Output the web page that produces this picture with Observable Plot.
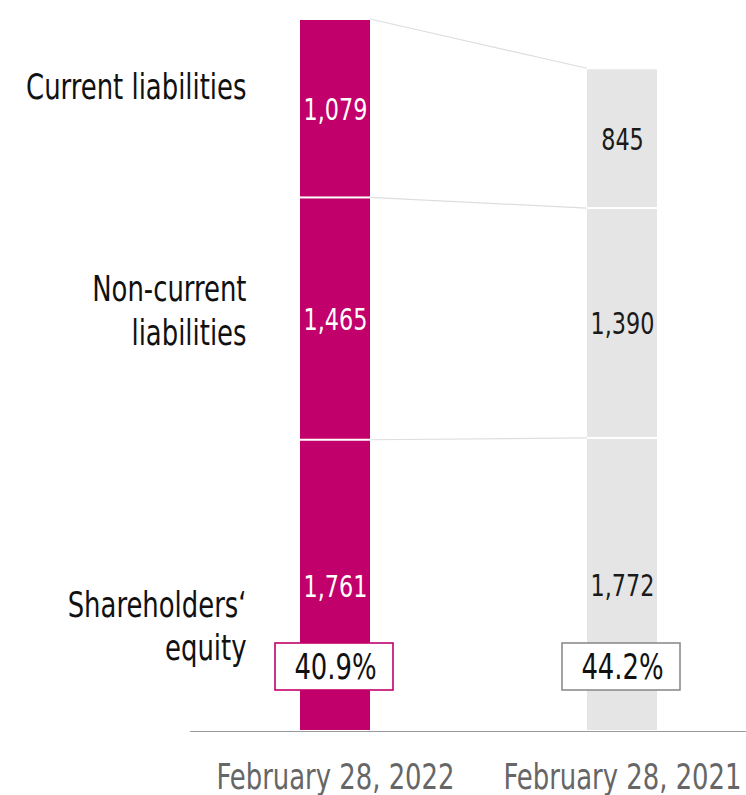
<!DOCTYPE html>
<html>
<head>
<meta charset="utf-8">
<script src="https://cdn.jsdelivr.net/npm/d3@7"></script>
<script src="https://cdn.jsdelivr.net/npm/@observablehq/plot@0.6"></script>
<style>
  html, body { margin: 0; padding: 0; background: #fff; }
</style>
</head>
<body>
<div id="chart"></div>
<script>
const dates = ["February 28, 2022", "February 28, 2021"];
const categories = ["Shareholders' equity", "Non-current liabilities", "Current liabilities"];
const categoryLabels = ["Shareholders‘\nequity", "Non-current\nliabilities", "Current liabilities"];
const values2022 = [1761, 1465, 1079];
const values2021 = [1772, 1390, 845];
const equityRatios = ["40.9%", "44.2%"];

const MAGENTA = "#c2006b";
const GRAY = "#e5e5e5";
const barFill = {[dates[0]]: MAGENTA, [dates[1]]: GRAY};
const textFill = {[dates[0]]: "#ffffff", [dates[1]]: "#1a1a1a"};
const boxStroke = {[dates[0]]: MAGENTA, [dates[1]]: "#8c8c8c"};

const rows = [];
categories.forEach((c, i) => rows.push({date: dates[0], category: c, label: categoryLabels[i], value: values2022[i]}));
categories.forEach((c, i) => rows.push({date: dates[1], category: c, label: categoryLabels[i], value: values2021[i]}));
const boxes = dates.map((d, i) => ({date: d, ratio: equityRatios[i]}));
const totals = [d3.sum(values2022), d3.sum(values2021)];
const fmt = d3.format(",");

function connectors(index, scales) {
  const x = scales.x, y = scales.y;
  const bw = x.bandwidth();
  const a = d3.cumsum(values2022), b = d3.cumsum(values2021);
  const g = d3.create("svg:g").attr("stroke", "#dedede").attr("stroke-width", 1.2).attr("fill", "none");
  for (let i = 0; i < a.length; i++) {
    g.append("line")
      .attr("x1", x(dates[0]) + bw).attr("y1", y(a[i]))
      .attr("x2", x(dates[1])).attr("y2", y(b[i]));
  }
  return g.node();
}

const labelOffsets = {[categories[0]]: 39, [categories[1]]: -10, [categories[2]]: -24};
const bar1Rows = rows.filter(r => r.date === dates[0]);
const leftLabelMarks = categories.map(c =>
  Plot.text(bar1Rows, Plot.stackY({
    y: "value",
    z: "category",
    text: d => (d.category === c ? d.label : null),
    frameAnchor: "left",
    dx: 56,
    dy: labelOffsets[c],
    textAnchor: "end",
    lineAnchor: "middle",
    lineHeight: 1.2,
    fontSize: 36,
    fill: "#111"
  }))
);

const chart = Plot.plot({
  width: 746,
  height: 795,
  marginLeft: 190,
  marginRight: 0,
  marginTop: 19,
  marginBottom: 64,
  style: {fontFamily: "'DejaVu Sans Condensed', 'DejaVu Sans', sans-serif", background: "#fff"},
  x: {domain: dates, range: [81, 875], padding: 0.757},
  y: {domain: [0, d3.max(totals)], axis: null},
  marks: [
    connectors,
    Plot.barY(rows, {
      x: "date", y: "value", z: "category",
      fill: d => barFill[d.date],
      insetTop: 1, insetBottom: 1
    }),
    Plot.text(rows, Plot.stackY({
      x: "date", y: "value", z: "category",
      text: d => fmt(d.value),
      fill: d => textFill[d.date],
      fontSize: 31,
      dy: 1,
      lineAnchor: "middle"
    })),
    ...leftLabelMarks,
    Plot.cell(boxes, {
      x: "date",
      fill: "white",
      stroke: d => boxStroke[d.date],
      strokeWidth: 1.6,
      insetLeft: -25, insetRight: -23,
      insetTop: 624, insetBottom: 41
    }),
    Plot.text(boxes, {
      x: "date",
      text: "ratio",
      frameAnchor: "bottom",
      dy: -64.5,
      lineAnchor: "middle",
      fontSize: 36,
      fill: "#111"
    }),
    Plot.ruleY([0], {stroke: "#9a9a9a", strokeWidth: 1.2}),
    Plot.axisX({tickSize: 0, tickPadding: 32, fontSize: 36, color: "#666", label: null})
  ]
});

// condense all text horizontally around its anchor point
const SX = 0.8;
d3.select(chart).selectAll("text").each(function () {
  const el = d3.select(this);
  const t = el.attr("transform");
  if (t) {
    el.attr("transform", t + ` scale(${SX},1)`);
  } else {
    const x = +(el.attr("x") || 0);
    el.attr("x", null).attr("transform", `translate(${x},0) scale(${SX},1)`);
  }
});

document.getElementById("chart").appendChild(chart);
</script>
</body>
</html>
